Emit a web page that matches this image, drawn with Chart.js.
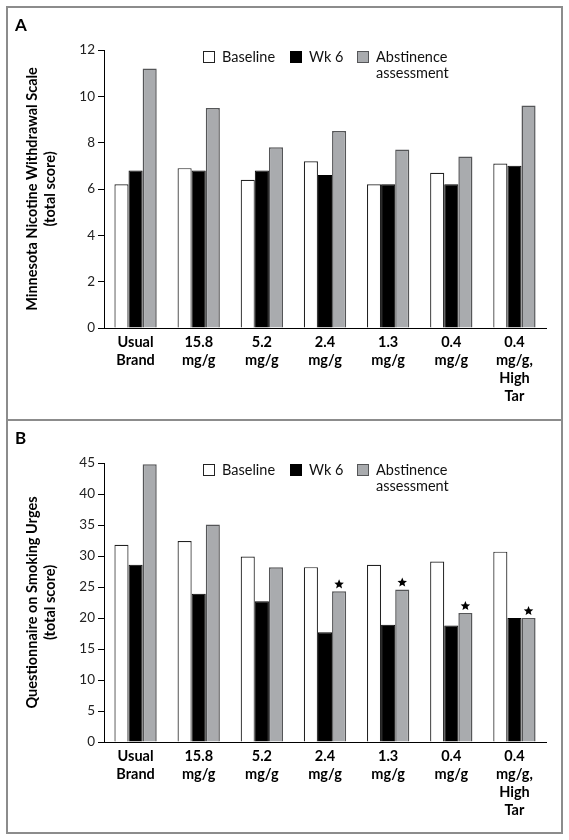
<!DOCTYPE html>
<html>
<head>
<meta charset="utf-8">
<script src="https://cdn.jsdelivr.net/npm/chart.js@4.4.1/dist/chart.umd.min.js"></script>
<style>
  body { margin: 0; background: #fff; width: 569px; height: 840px; position: relative; }
  .panel { position: absolute; left: 6px; width: 557px; height: 415px; border: 2px solid #8c8c8c; box-sizing: border-box; }
  #panelA { top: 6px; }
  #panelB { top: 419px; }
  .box { position: relative; width: 553px; height: 411px; }
</style>
</head>
<body>
<div class="panel" id="panelA"><div class="box"><canvas id="chartA"></canvas></div></div>
<div class="panel" id="panelB"><div class="box"><canvas id="chartB"></canvas></div></div>
<script>
// categories (nicotine content of the study cigarettes)
const categories = [
    ['Usual', 'Brand'], ['15.8', 'mg/g'], ['5.2', 'mg/g'], ['2.4', 'mg/g'],
    ['1.3', 'mg/g'], ['0.4', 'mg/g'], ['0.4', 'mg/g,', 'High', 'Tar']
];
const seriesNames = ['Baseline', 'Wk 6', 'Abstinence\nassessment'];

// A: Minnesota Nicotine Withdrawal Scale
const mnwsBaseline    = [6.2, 6.9, 6.4, 7.2, 6.2, 6.7, 7.1];
const mnwsWeek6       = [6.8, 6.8, 6.8, 6.6, 6.2, 6.2, 7.0];
const mnwsAbstinence  = [11.2, 9.5, 7.8, 8.5, 7.7, 7.4, 9.6];
const mnwsTicks       = [0, 2, 4, 6, 8, 10, 12];

// B: Questionnaire on Smoking Urges
const qsuBaseline     = [31.8, 32.4, 29.9, 28.2, 28.6, 29.1, 30.7];
const qsuWeek6        = [28.6, 23.9, 22.7, 17.7, 18.9, 18.8, 20.0];
const qsuAbstinence   = [44.8, 35.1, 28.2, 24.3, 24.6, 20.8, 20.0];
const qsuTicks        = [0, 5, 10, 15, 20, 25, 30, 35, 40, 45];
const qsuStarred      = [false, false, false, true, true, true, true];

const FONT = 'Lato';
const GREY = '#a9abae';

function drawStar(ctx, cx, cy, r) {
    ctx.beginPath();
    for (let k = 0; k < 10; k++) {
        const rad = k % 2 === 0 ? r : r * 0.45;
        const a = -Math.PI / 2 + k * Math.PI / 5;
        const px = cx + rad * Math.cos(a), py = cy + rad * Math.sin(a);
        if (k === 0) ctx.moveTo(px, py); else ctx.lineTo(px, py);
    }
    ctx.closePath();
    ctx.fill();
}

// panel letter, legend inside plot, asterisks
const decor = {
    id: 'decor',
    afterDraw(chart, args, opts) {
        const ctx = chart.ctx;
        ctx.save();
        ctx.fillStyle = '#000';
        ctx.font = 'bold 17px ' + FONT;
        ctx.textBaseline = 'middle';
        ctx.textAlign = 'left';
        ctx.fillText(opts.letter, 7, 18);

        // legend
        ctx.font = '14.5px ' + FONT;
        chart.data.datasets.forEach((ds, i) => {
            const bx = opts.legendX[i];
            const by = opts.legendY;
            ctx.fillStyle = ds.backgroundColor;
            ctx.fillRect(bx, by - 6, 12, 12);
            ctx.strokeStyle = ds.borderColor;
            ctx.lineWidth = 1;
            ctx.strokeRect(bx + 0.5, by - 5.5, 11, 11);
            ctx.fillStyle = '#111';
            ds.label.split('\n').forEach((line, j) => {
                ctx.fillText(line, bx + 19, by + j * 16.5);
            });
        });

        // significance stars on the abstinence bars
        if (opts.stars) {
            const meta = chart.getDatasetMeta(2);
            ctx.fillStyle = '#000';
            opts.stars.forEach((s, i) => {
                if (!s) return;
                const bar = meta.data[i];
                drawStar(ctx, bar.x, bar.y - 7, 5);
            });
        }
        ctx.restore();
    }
};

function makeChart(id, letter, base, wk6, abst, ticks, title, stars, bottom) {
    return new Chart(document.getElementById(id), {
        type: 'bar',
        data: {
            labels: categories,
            datasets: [
                { label: seriesNames[0], data: base, backgroundColor: '#ffffff', borderColor: '#222', borderWidth: 1.2 },
                { label: seriesNames[1], data: wk6, backgroundColor: '#000000', borderColor: '#000', borderWidth: 1 },
                { label: seriesNames[2], data: abst, backgroundColor: GREY, borderColor: '#555658', borderWidth: 1.5 }
            ]
        },
        options: {
            responsive: true,
            maintainAspectRatio: false,
            animation: false,
            layout: { padding: { top: 42, right: 15, left: 0, bottom: 0 } },
            datasets: { bar: { categoryPercentage: 0.67, barPercentage: 1.0 } },
            plugins: {
                legend: { display: false },
                tooltip: { enabled: false },
                decor: { letter: letter, legendX: [195, 282, 349], legendY: 49, stars: stars }
            },
            scales: {
                x: {
                    grid: { display: false, drawTicks: false },
                    border: { display: true, color: '#000', width: 1 },
                    ticks: { color: '#000', padding: 5, maxRotation: 0, autoSkip: false,
                             font: { family: FONT, size: 14.5, weight: 'bold', lineHeight: 1.25 } },
                    afterFit: s => { s.height = bottom; }
                },
                y: {
                    min: ticks[0],
                    max: ticks[ticks.length - 1],
                    grid: { drawOnChartArea: false, drawTicks: true, tickLength: 6, color: '#000' },
                    border: { display: true, color: '#000', width: 1 },
                    ticks: { stepSize: ticks[1] - ticks[0], color: '#222', padding: 3,
                             font: { family: FONT, size: 13.5 } },
                    title: {
                        display: true,
                        text: title,
                        color: '#000',
                        padding: { top: 16, bottom: 0 },
                        font: { family: FONT, size: 14.5, weight: 'bold', lineHeight: 1.2 }
                    },
                    afterFit: s => { s.width = 96; }
                }
            }
        },
        plugins: [decor]
    });
}

makeChart('chartA', 'A', mnwsBaseline, mnwsWeek6, mnwsAbstinence, mnwsTicks,
    ['Minnesota Nicotine Withdrawal Scale', '(total score)'], null, 91);
makeChart('chartB', 'B', qsuBaseline, qsuWeek6, qsuAbstinence, qsuTicks,
    ['Questionnaire on Smoking Urges', '(total score)'], qsuStarred, 90);
</script>
</body>
</html>
